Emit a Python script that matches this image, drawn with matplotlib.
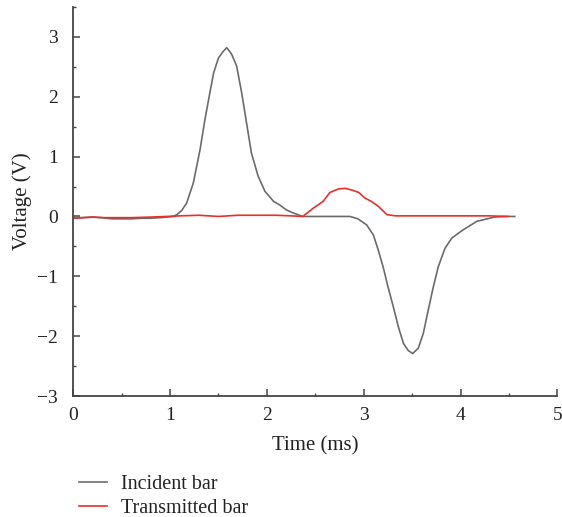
import matplotlib.pyplot as plt
from matplotlib.ticker import MultipleLocator

plt.rcParams['font.family'] = ['Liberation Serif', 'DejaVu Serif']

# incident bar signal (time in ms, voltage in V)
t_inc = [0.0, 0.1, 0.2, 0.3, 0.4, 0.5, 0.6, 0.7, 0.8, 0.9, 0.97, 1.03, 1.07,
         1.12, 1.17, 1.24, 1.31, 1.36, 1.41, 1.45, 1.50, 1.55, 1.585, 1.636,
         1.688, 1.74, 1.79, 1.84, 1.91, 1.98, 2.07, 2.135, 2.20, 2.27, 2.37,
         2.50, 2.70, 2.858, 2.94, 3.03, 3.10, 3.15, 3.20, 3.25, 3.306, 3.357,
         3.41, 3.46, 3.506, 3.564, 3.616, 3.667, 3.72, 3.77, 3.84, 3.91,
         4.03, 4.17, 4.30, 4.35, 4.45, 4.56]
v_inc = [-0.02, -0.02, -0.01, -0.02, -0.04, -0.04, -0.04, -0.03, -0.03, -0.02,
         -0.01, 0.0, 0.03, 0.10, 0.22, 0.56, 1.12, 1.62, 2.06, 2.40, 2.65,
         2.76, 2.82, 2.71, 2.51, 2.06, 1.56, 1.06, 0.67, 0.42, 0.25, 0.19,
         0.11, 0.06, 0.0, 0.0, 0.0, 0.0, -0.04, -0.14, -0.31, -0.56, -0.84,
         -1.17, -1.51, -1.84, -2.12, -2.24, -2.29, -2.20, -1.95, -1.56, -1.17,
         -0.84, -0.53, -0.36, -0.22, -0.08, -0.03, -0.01, 0.0, 0.0]

# transmitted bar signal
t_tra = [0.0, 0.1, 0.2, 0.3, 0.45, 0.6, 0.8, 0.96, 1.1, 1.3, 1.5, 1.7, 1.9,
         2.1, 2.25, 2.37, 2.48, 2.58, 2.65, 2.74, 2.81, 2.88, 2.95, 3.01,
         3.08, 3.15, 3.24, 3.33, 3.6, 4.0, 4.3, 4.49]
v_tra = [-0.03, -0.02, -0.01, -0.02, -0.02, -0.02, -0.01, 0.0, 0.01, 0.02,
         0.0, 0.02, 0.02, 0.02, 0.01, 0.0, 0.14, 0.25, 0.40, 0.46, 0.47,
         0.44, 0.40, 0.31, 0.25, 0.17, 0.03, 0.01, 0.01, 0.01, 0.01, 0.0]

fig = plt.figure(figsize=(5.62, 5.17), dpi=100)
ax = fig.add_axes([0.1304, 0.234, 0.8613, 0.7525])

ax.plot(t_inc, v_inc, color='#6b6b6b', lw=1.2, label='Incident bar')
ax.plot(t_tra, v_tra, color='#e8302a', lw=1.2, label='Transmitted bar')

ax.set_xlim(0, 5)
ax.set_ylim(-3, 3.5)
ax.xaxis.set_major_locator(MultipleLocator(1))
ax.xaxis.set_minor_locator(MultipleLocator(0.5))
ax.yaxis.set_major_locator(MultipleLocator(1))
ax.yaxis.set_minor_locator(MultipleLocator(0.5))
ax.set_yticks([-3, -2, -1, 0, 1, 2, 3])

for s in ['top', 'right']:
    ax.spines[s].set_visible(False)
for s in ['left', 'bottom']:
    ax.spines[s].set_color('#444444')
    ax.spines[s].set_linewidth(1.3)

ax.tick_params(which='major', direction='in', length=5, width=1.1,
               color='#444444', labelsize=14, labelcolor='#222222')
ax.tick_params(which='minor', direction='in', length=2.5, width=1.0,
               color='#444444')
ax.tick_params(axis='y', which='major', pad=11)
ax.tick_params(axis='x', which='major', pad=8)

ax.set_xlabel('Time (ms)', fontsize=15, color='#222222', labelpad=9)
ax.set_ylabel('Voltage (V)', fontsize=15, color='#222222', labelpad=4)

fig.legend(loc='upper left', bbox_to_anchor=(0.14, 0.082), frameon=False,
           fontsize=14.5, handlelength=1.4, handletextpad=0.7,
           labelspacing=0.25, borderpad=0, borderaxespad=0,
           labelcolor='#222222')

fig.savefig('out.png', dpi=100)
